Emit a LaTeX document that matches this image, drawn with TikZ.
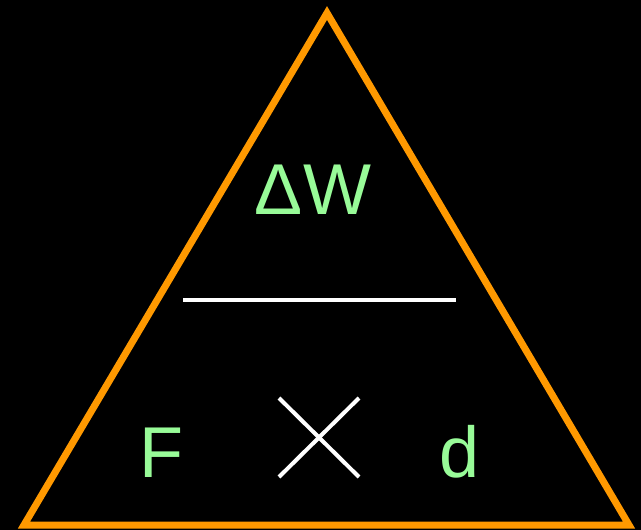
\documentclass[tikz,border=0pt]{standalone}
\usepackage{fontspec}
\setmainfont{Liberation Sans}
\usetikzlibrary{calc}
\definecolor{triorange}{RGB}{255,153,0}
\definecolor{txtgreen}{RGB}{152,251,152}
\tikzset{
    qty/.style={text=txtgreen, inner sep=0pt, anchor=base, font=\fontsize{72}{86}\selectfont},
    rule/.style={draw=white, line width=4pt}
}
\begin{document}
\begin{tikzpicture}[x=1pt, y=-1pt]
    % Background
    \fill[black] (0,0) rectangle (641,530);
    \useasboundingbox (0,0) rectangle (641,530);

    % Triangle
    \coordinate (apex) at (327,13);
    \coordinate (left) at (24,525);
    \coordinate (right) at (629,525);
    \draw[triorange, line width=7pt, line join=miter] (apex) -- (left) -- (right) -- cycle;

    % Quantities
    \node[qty] (work) at (313,214) {ΔW};
    \node[qty] (force) at (161,477) {F};
    \node[qty] (dist) at (460,477) {d};

    % Division bar
    \coordinate (barL) at (183,300);
    \coordinate (barR) at (456,300);
    \draw[rule] (barL) -- (barR);

    % Times sign
    \coordinate (timesC) at (319,437.5);
    \draw[rule] ($(timesC)+(-40,-39.5)$) -- ($(timesC)+(40,39.5)$);
    \draw[rule] ($(timesC)+(40,-39.5)$) -- ($(timesC)+(-40,39.5)$);
\end{tikzpicture}
\end{document}
